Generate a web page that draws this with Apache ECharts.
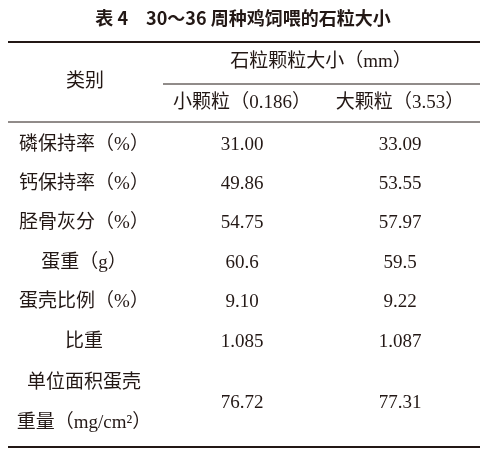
<!DOCTYPE html>
<html><head><meta charset="utf-8">
<script src="https://cdn.jsdelivr.net/npm/echarts@6/dist/echarts.min.js"></script>
<style>html,body{margin:0;padding:0;background:#fff}#c{width:487px;height:454px}</style>
</head><body><div id="c"></div>
<script>
var title = '表 4　30～36 周种鸡饲喂的石粒大小';
var headerGroup = '石粒颗粒大小（mm）';
var headerCat = '类别';
var columns = ['小颗粒（0.186）', '大颗粒（3.53）'];
var categories = ['磷保持率（%）', '钙保持率（%）', '胫骨灰分（%）', '蛋重（g）', '蛋壳比例（%）', '比重', '单位面积蛋壳\n重量（mg/cm²）'];
var smallVals = ['31.00', '49.86', '54.75', '60.6', '9.10', '1.085', '76.72'];
var largeVals = ['33.09', '53.55', '57.97', '59.5', '9.22', '1.087', '77.31'];

var chart = echarts.init(document.getElementById('c'));
var F = '"Liberation Serif","Noto Sans CJK SC",serif';
var S = '"Noto Sans CJK SC","DejaVu Sans",sans-serif';
var els = [];
function txt(x, y, s, size, bold, font) {
  els.push({type:'text', x:x, y:y, style:{text:s, font:(bold?'bold ':'')+size+'px '+(font||F), fill:'#231815', align:'center', verticalAlign:'middle', lineHeight:40}});
}
function line(x1, y, x2, w) {
  els.push({type:'line', shape:{x1:x1, y1:y, x2:x2, y2:y}, style:{stroke:'#231815', lineWidth:w}});
}
txt(243, 18, title, 18, true, S);
line(8, 42, 480, 2);
txt(85, 82, headerCat, 19);
txt(321, 62, headerGroup, 19);
line(163, 84, 480, 1);
txt(242, 103, columns[0], 19);
txt(400, 103, columns[1], 19);
line(8, 122, 480, 1);
var ys = [145, 184, 223, 263, 302, 342, 403];
categories.forEach(function(c, i){
  txt(84, ys[i], c, 19);
  txt(242, ys[i], smallVals[i], 19);
  txt(400, ys[i], largeVals[i], 19);
});
line(8, 447, 480, 2);
chart.setOption({graphic:{elements:els}});
</script></body></html>
